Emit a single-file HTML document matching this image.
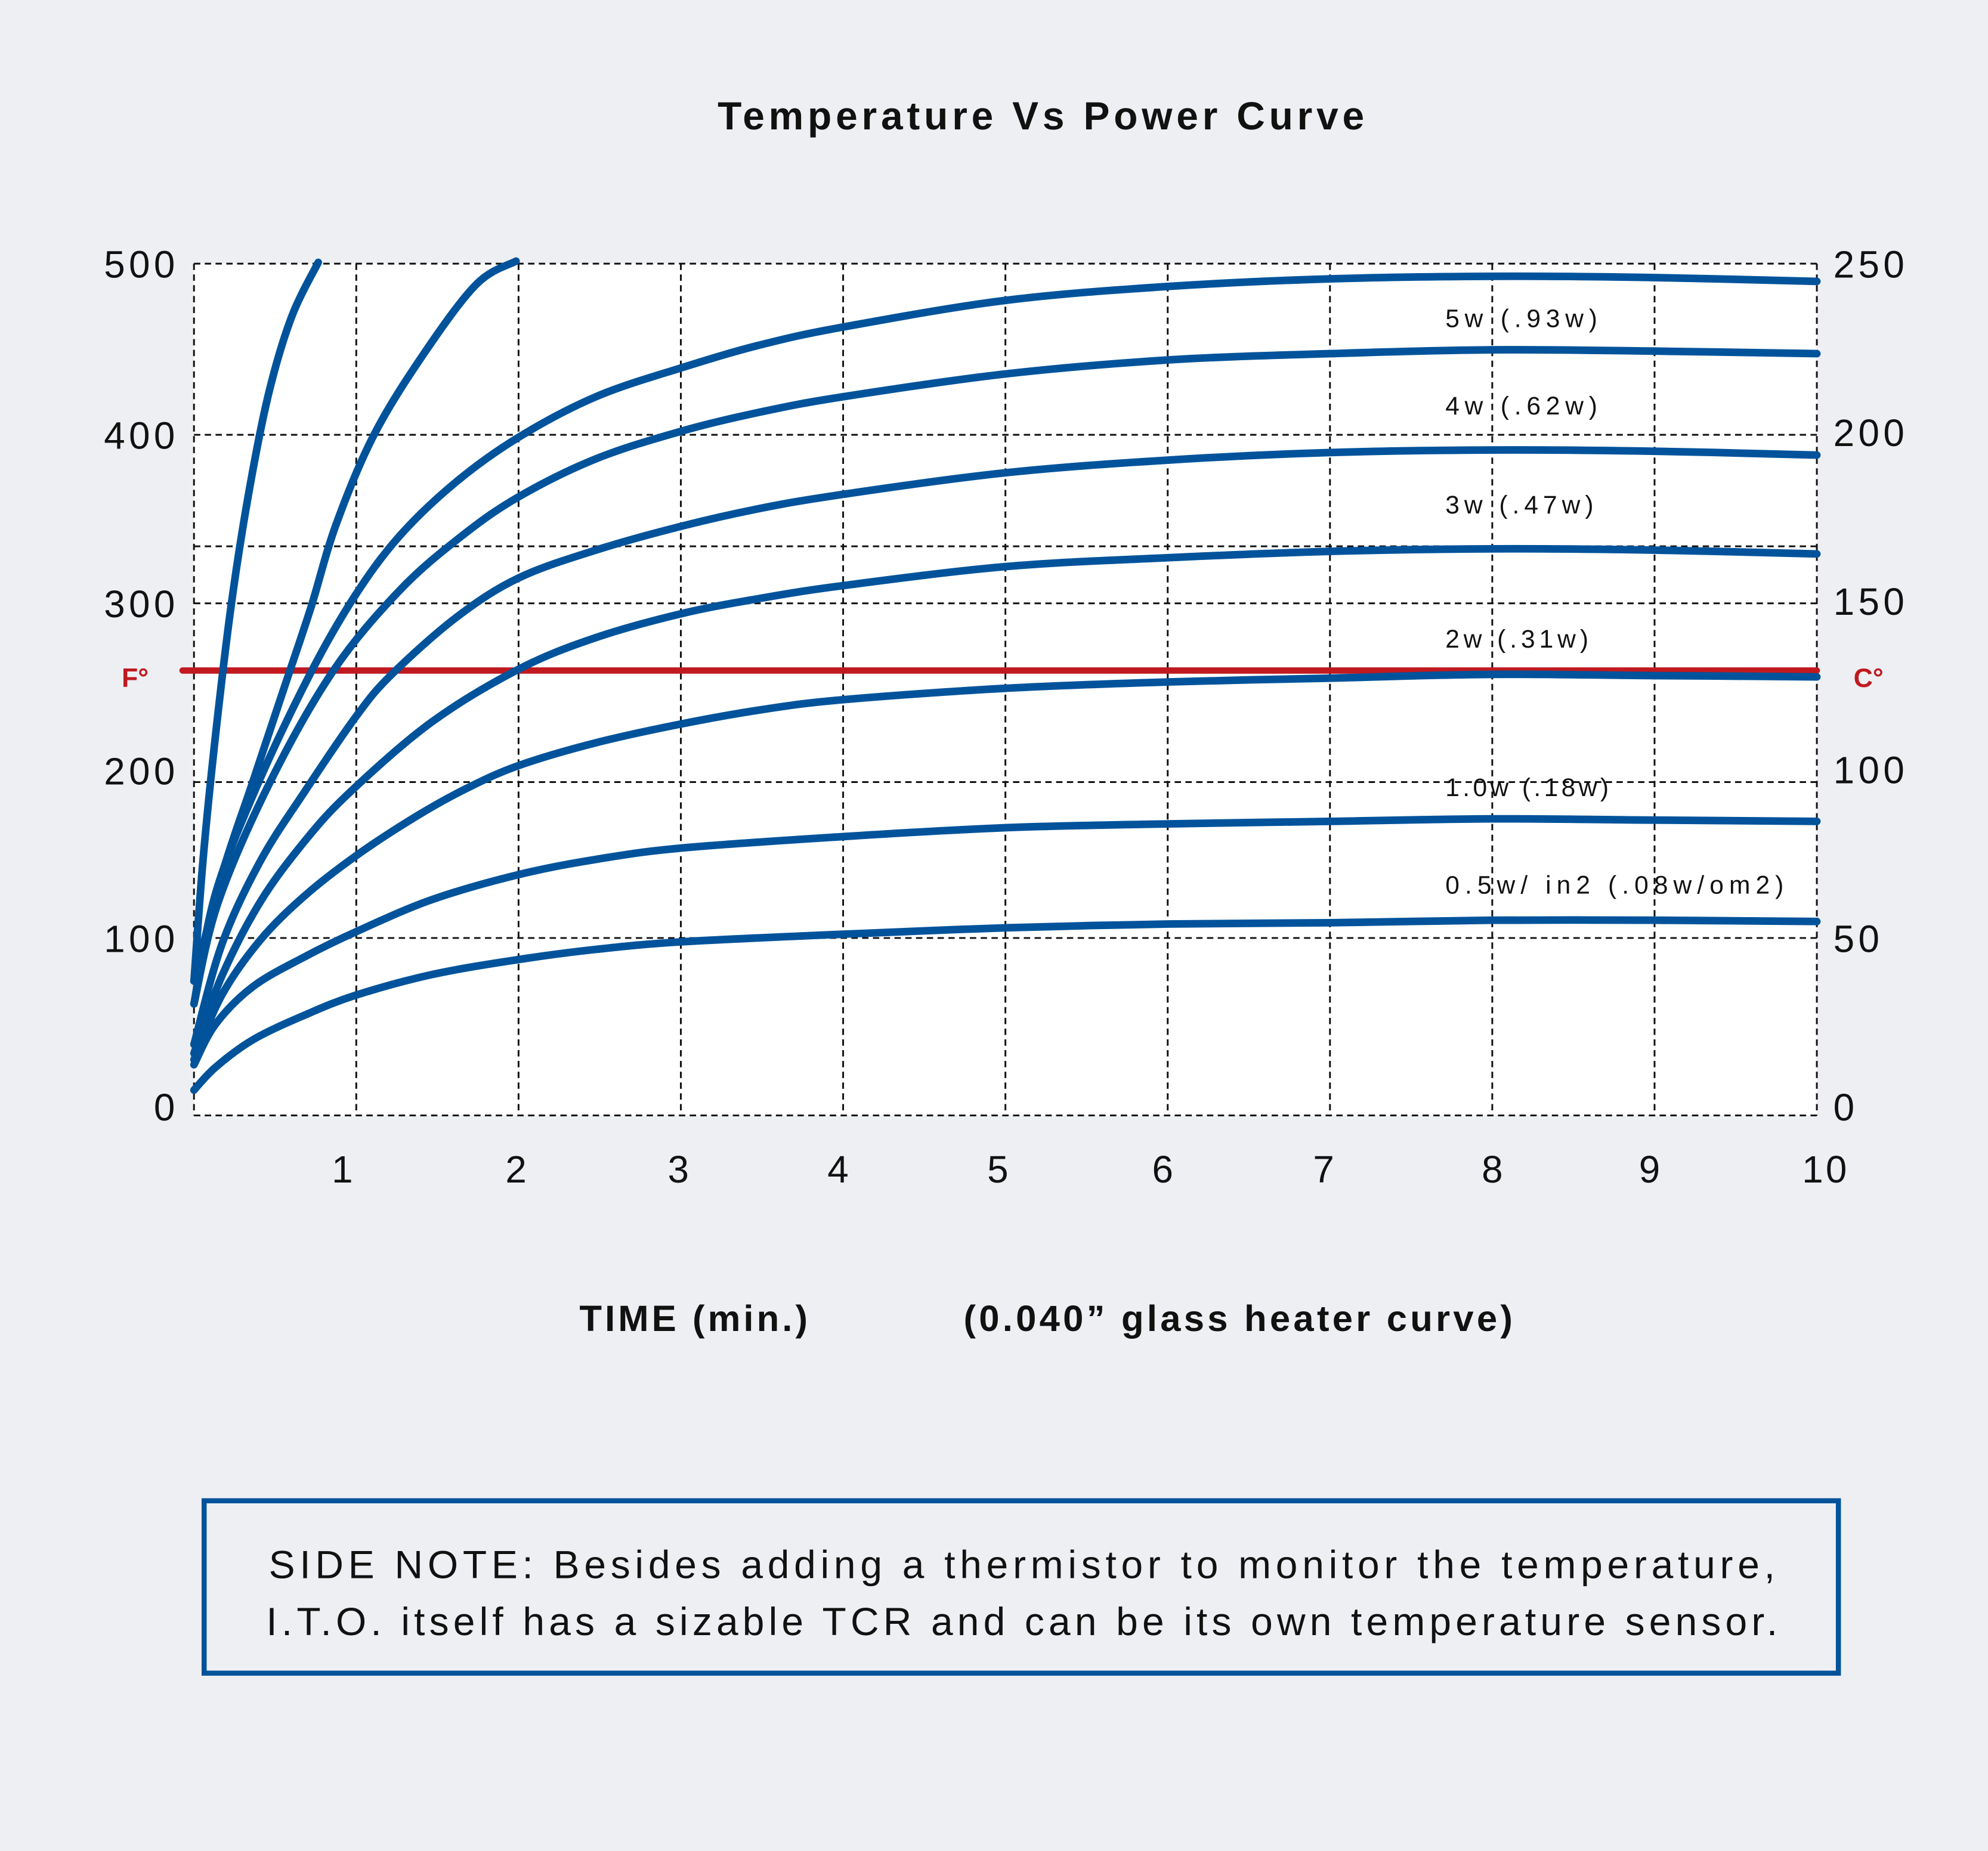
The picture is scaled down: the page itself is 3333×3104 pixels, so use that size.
<!DOCTYPE html>
<html><head><meta charset="utf-8"><style>
html,body{margin:0;padding:0;background:#eeeff3;}
svg{display:block}
text{font-family:"Liberation Sans",sans-serif;}
</style></head><body>
<svg id="s" width="3333" height="3104" viewBox="0 0 1568 1460.3" preserveAspectRatio="none" xmlns="http://www.w3.org/2000/svg">
<rect width="1568" height="1461" fill="#eeeff3"/>
<text x="566" y="102" font-size="31" font-weight="bold" fill="#111" textLength="510">Temperature Vs Power Curve</text>
<rect x="153" y="208" width="1280" height="672" fill="#fff"/>
<g stroke="#111" stroke-width="1.4" stroke-dasharray="5,3.5" fill="none">
<line x1="153" y1="208" x2="1433" y2="208"/>
<line x1="153" y1="343" x2="1433" y2="343"/>
<line x1="153" y1="431" x2="1433" y2="431"/>
<line x1="153" y1="476" x2="1433" y2="476"/>
<line x1="153" y1="617" x2="1433" y2="617"/>
<line x1="153" y1="740" x2="1433" y2="740"/>
<line x1="153" y1="880" x2="1433" y2="880"/>
<line x1="153" y1="208" x2="153" y2="880"/>
<line x1="281" y1="208" x2="281" y2="880"/>
<line x1="409" y1="208" x2="409" y2="880"/>
<line x1="537" y1="208" x2="537" y2="880"/>
<line x1="665" y1="208" x2="665" y2="880"/>
<line x1="793" y1="208" x2="793" y2="880"/>
<line x1="921" y1="208" x2="921" y2="880"/>
<line x1="1049" y1="208" x2="1049" y2="880"/>
<line x1="1177" y1="208" x2="1177" y2="880"/>
<line x1="1305" y1="208" x2="1305" y2="880"/>
<line x1="1433" y1="208" x2="1433" y2="880"/>
</g>
<g font-size="30" fill="#111" letter-spacing="3" text-anchor="end">
<text x="141" y="219">500</text><text x="141" y="354">400</text><text x="141" y="487">300</text>
<text x="141" y="619">200</text><text x="141" y="751">100</text><text x="141" y="884">0</text>
</g>
<g font-size="30" fill="#111" letter-spacing="3">
<text x="1446" y="219">250</text><text x="1446" y="352">200</text><text x="1446" y="485">150</text>
<text x="1446" y="618">100</text><text x="1446" y="751">50</text><text x="1446" y="884">0</text>
</g>
<g font-size="30" fill="#111" text-anchor="middle" letter-spacing="2">
<text x="271" y="933">1</text><text x="408" y="933">2</text><text x="536" y="933">3</text><text x="662" y="933">4</text>
<text x="788" y="933">5</text><text x="918" y="933">6</text><text x="1045" y="933">7</text><text x="1178" y="933">8</text>
<text x="1302" y="933">9</text><text x="1440" y="933">10</text>
</g>
<line x1="144" y1="529" x2="1433" y2="529" stroke="#c0191f" stroke-width="5" stroke-linecap="round"/>
<text x="96" y="542" font-size="21" font-weight="bold" fill="#c0191f">F°</text>
<text x="1462" y="542" font-size="21" font-weight="bold" fill="#c0191f">C°</text>
<g id="curves" stroke="#00539b" stroke-width="6" fill="none" stroke-linecap="round" stroke-linejoin="round">
<polyline points="153,774 160,680 170,580 182,480 196,390 212,310 230,250 251,207"/>
<polyline points="153,774 175,690 200,615 225,540 245,480 265,414 295,343 335,278 376,224 407,206"/>
<polyline points="153,792 170,705 204,617 246,529 280,470 315,423 360,380 409,345 470,313 538,290 600,272 665,258 793,237 921,226 1049,220 1177,218 1305,219 1433,222"/>
<polyline points="153,792 172,712 213,617 263,529 315,466 364,423 409,392 470,362 538,340 600,325 665,313 793,295 921,284 1049,279 1177,276 1305,277 1433,279"/>
<polyline points="153,824 175,745 205,680 240,625 281,565 309,532 360,487 409,456 470,434 538,415 600,401 665,390 793,373 921,363 1049,357 1177,355 1305,356 1433,359"/>
<polyline points="153,831 175,770 205,712 240,664 276,625 340,570 409,528 470,503 538,484 600,472 665,462 793,447 921,440 1049,435 1177,433 1305,434 1433,437"/>
<polyline points="153,836 175,785 205,742 240,707 281,675 330,643 368,622 409,604 470,586 538,571 600,560 665,552 793,543 921,538 1049,535 1177,532 1305,533 1433,534"/>
<polyline points="153,840 170,808 200,778 240,755 281,735 340,710 409,690 470,678 538,669 665,660 793,653 921,650 1049,648 1177,646 1305,647 1433,648"/>
<polyline points="153,860 170,842 200,820 240,801 281,785 340,769 409,757 470,749 538,743 665,737 793,732 921,729 1049,728 1177,726 1305,726 1433,727"/>
</g>
<g font-size="20" fill="#111" letter-spacing="2.2">
<text x="1140" y="258" textLength="122">5w (.93w)</text>
<text x="1140" y="327" textLength="122">4w (.62w)</text>
<text x="1140" y="405" textLength="119">3w (.47w)</text>
<text x="1140" y="511" textLength="115">2w (.31w)</text>
<text x="1140" y="628" textLength="131">1.0w (.18w)</text>
<text x="1140" y="705" textLength="269">0.5w/ in2 (.08w/om2)</text>
</g>
<text x="457" y="1050" font-size="29" font-weight="bold" fill="#111" textLength="180">TIME (min.)</text>
<text x="760" y="1050" font-size="29" font-weight="bold" fill="#111" textLength="433">(0.040” glass heater curve)</text>
<rect x="161" y="1184" width="1289" height="136" fill="none" stroke="#00539b" stroke-width="4"/>
<g font-size="31" fill="#111">
<text x="212" y="1245" textLength="1188">SIDE NOTE: Besides adding a thermistor to monitor the temperature,</text>
<text x="210" y="1290" textLength="1192">I.T.O. itself has a sizable TCR and can be its own temperature sensor.</text>
</g>
</svg>
<script>
(function(){
var g=document.getElementById('curves');
var pls=Array.prototype.slice.call(g.getElementsByTagName('polyline'));
pls.forEach(function(pl){
 var p=pl.getAttribute('points').trim().split(/\s+/).map(function(s){var a=s.split(',');return [+a[0],+a[1]];});
 var d='M'+p[0][0]+','+p[0][1];
 for(var i=0;i<p.length-1;i++){
  var p0=p[i-1]||p[i],p1=p[i],p2=p[i+1],p3=p[i+2]||p2;
  var c1x=p1[0]+(p2[0]-p0[0])/6,c1y=p1[1]+(p2[1]-p0[1])/6;
  var c2x=p2[0]-(p3[0]-p1[0])/6,c2y=p2[1]-(p3[1]-p1[1])/6;
  d+=' C'+c1x.toFixed(1)+','+c1y.toFixed(1)+' '+c2x.toFixed(1)+','+c2y.toFixed(1)+' '+p2[0]+','+p2[1];
 }
 var path=document.createElementNS('http://www.w3.org/2000/svg','path');
 path.setAttribute('d',d);
 g.insertBefore(path,pl);g.removeChild(pl);
});
})();
</script>
</body></html>
